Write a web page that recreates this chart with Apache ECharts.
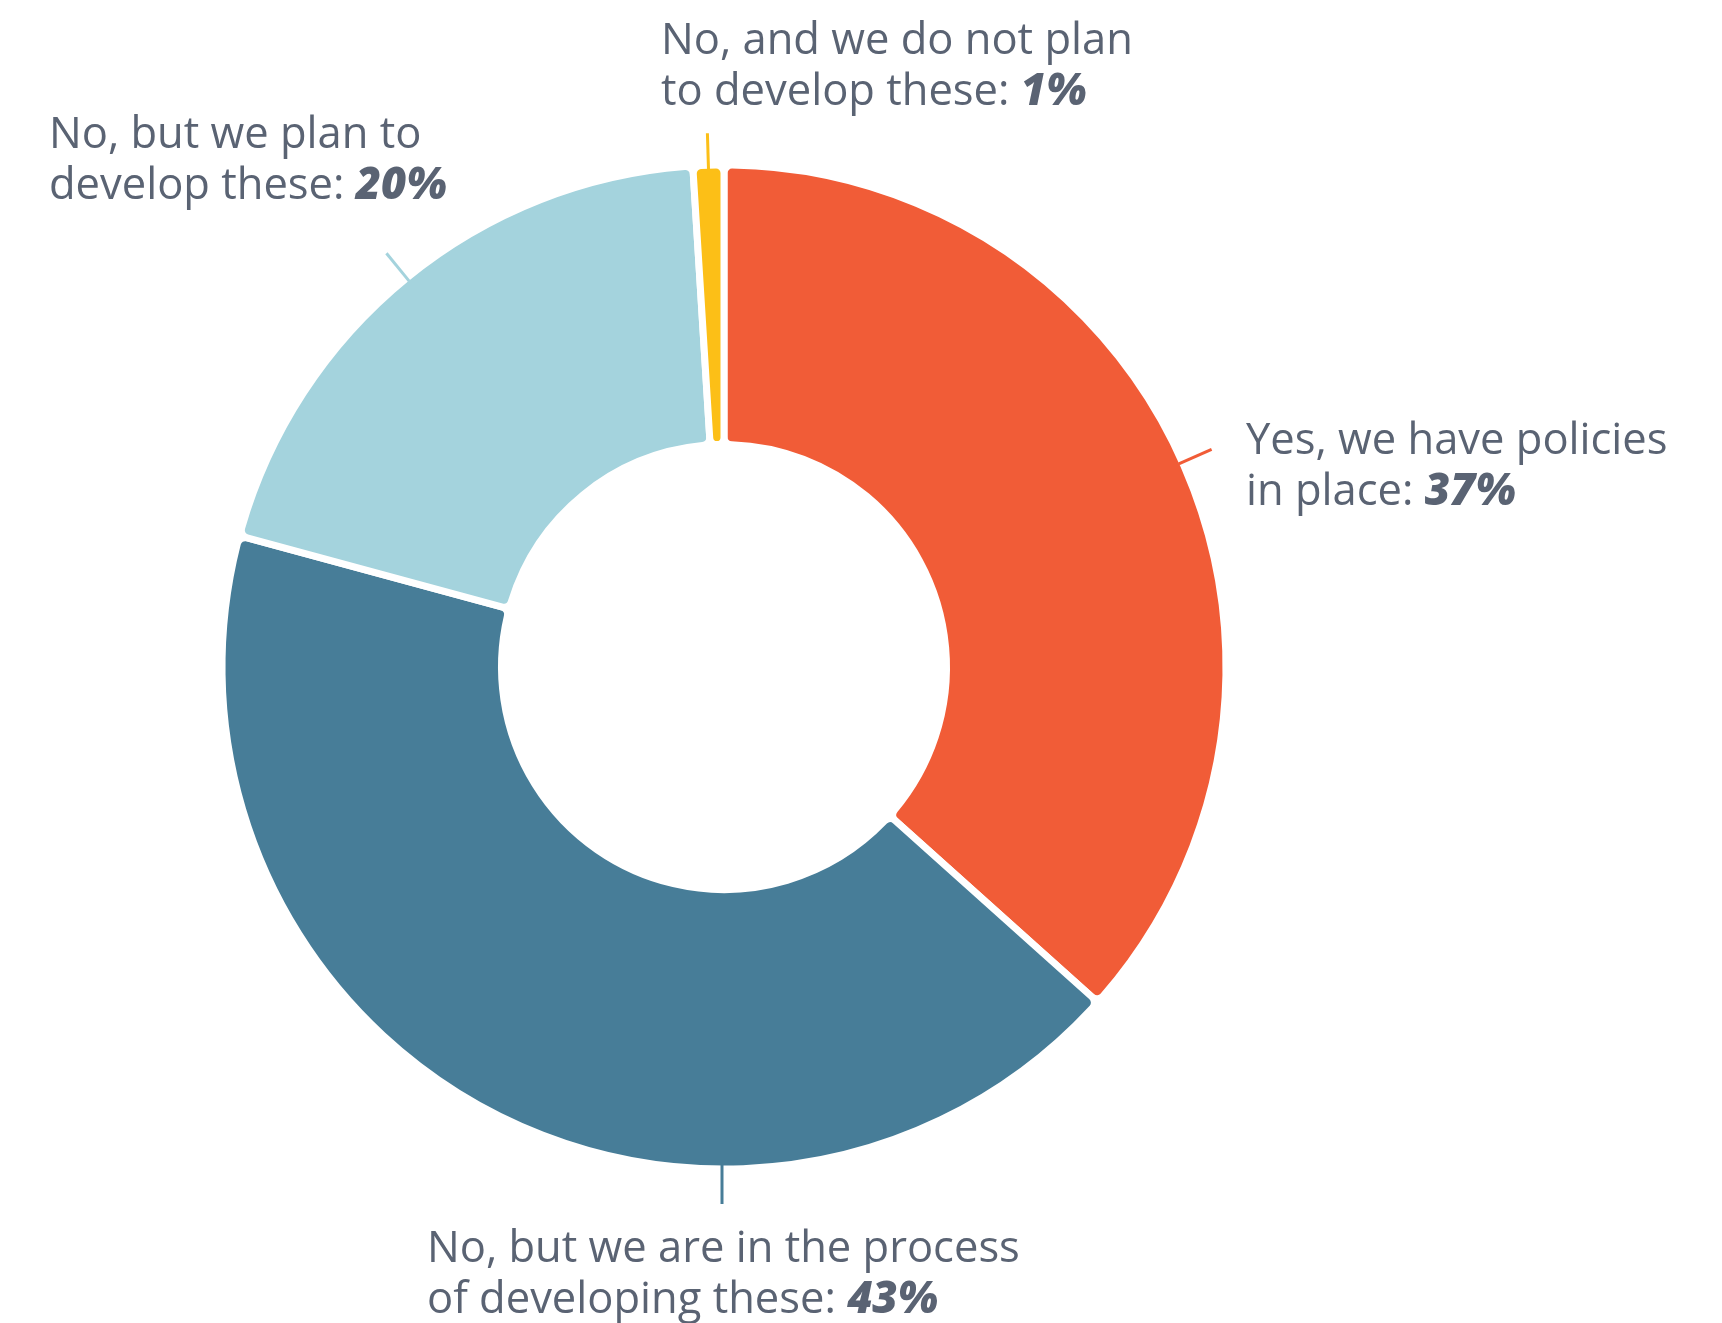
<!DOCTYPE html>
<html>
<head>
<meta charset="utf-8">
<script src="https://cdn.jsdelivr.net/npm/echarts@6/dist/echarts.min.js"></script>
<style>
  html, body { margin: 0; padding: 0; background: #ffffff; }
  #chart { width: 1722px; height: 1323px; }
</style>
</head>
<body>
<div id="chart"></div>
<script>
const categories = [
  'Yes, we have policies\nin place',
  'No, but we are in the process\nof developing these',
  'No, but we plan to\ndevelop these',
  'No, and we do not plan\nto develop these'
];
const values = [37, 43, 20, 1];
const colors = ['#f15c37', '#477d98', '#a4d3dd', '#fcbf17'];

const CX = 724, CY = 667;
const R_OUT = 502, R_IN = 222.5;
const TEXT_COLOR = '#5a6373';
const FONT = '"Open Sans", "Noto Sans", sans-serif';

const chart = echarts.init(document.getElementById('chart'), null, { renderer: 'canvas' });

const labelBoxes = {
  0: { x: 1246, y: 416 },
  1: { x: 427, y: 1224 },
  2: { x: 49, y: 110 },
  3: { x: 661, y: 16 }
};

function labelText(p) {
  const lines = p.name.split('\n');
  return lines.map(function (l, i) {
    return i < lines.length - 1 ? '{t|' + l + '}' : '{t|' + l + ': }{b|' + p.value + '%}';
  }).join('\n');
}

chart.setOption({
  animation: false,
  backgroundColor: '#ffffff',
  series: [{
    type: 'pie',
    z: 2,
    center: [CX, CY],
    radius: [R_IN, R_OUT],
    startAngle: 90,
    clockwise: true,
    itemStyle: { borderColor: '#ffffff', borderWidth: 7, borderRadius: 8 },
    label: { show: false },
    labelLine: { show: false },
    emphasis: { disabled: true },
    data: categories.map(function (c, i) {
      return { name: c, value: values[i], itemStyle: { color: colors[i] } };
    })
  }, {
    type: 'pie',
    z: 3,
    center: [CX, CY],
    radius: [R_IN, R_OUT],
    startAngle: 90,
    clockwise: true,
    avoidLabelOverlap: false,
    itemStyle: { color: 'rgba(255,255,255,0)', borderWidth: 0 },
    label: {
      show: true,
      position: 'outside',
      formatter: labelText,
      rich: {
        t: { fontSize: 43.5, fontFamily: FONT, color: TEXT_COLOR, lineHeight: 51 },
        b: { fontSize: 43.5, fontFamily: FONT, color: TEXT_COLOR, fontWeight: 900, fontStyle: 'italic', lineHeight: 51 }
      }
    },
    labelLine: { show: true, length: 34, length2: 0, lineStyle: { width: 3 } },
    labelLayout: function (params) {
      const b = labelBoxes[params.dataIndex];
      let pts = params.labelLinePoints;
      if (pts) {
        const r1 = Math.hypot(pts[1][0] - CX, pts[1][1] - CY);
        const ux = (pts[1][0] - CX) / r1, uy = (pts[1][1] - CY) / r1;
        const start = R_OUT - 4;
        const end = start + 36;
        if (params.dataIndex === 1) {
          pts = [[CX - 2, CY + start], [CX - 2, CY + end + 3], [CX - 2, CY + end + 3]];
        } else {
          pts = [[CX + ux * start, CY + uy * start], [CX + ux * end, CY + uy * end], [CX + ux * end, CY + uy * end]];
        }
      }
      return { x: b.x, y: b.y, align: 'left', verticalAlign: 'top', labelLinePoints: pts };
    },
    emphasis: { disabled: true },
    data: categories.map(function (c, i) {
      return { name: c, value: values[i], labelLine: { lineStyle: { color: colors[i] } } };
    })
  }]
});
</script>
</body>
</html>
